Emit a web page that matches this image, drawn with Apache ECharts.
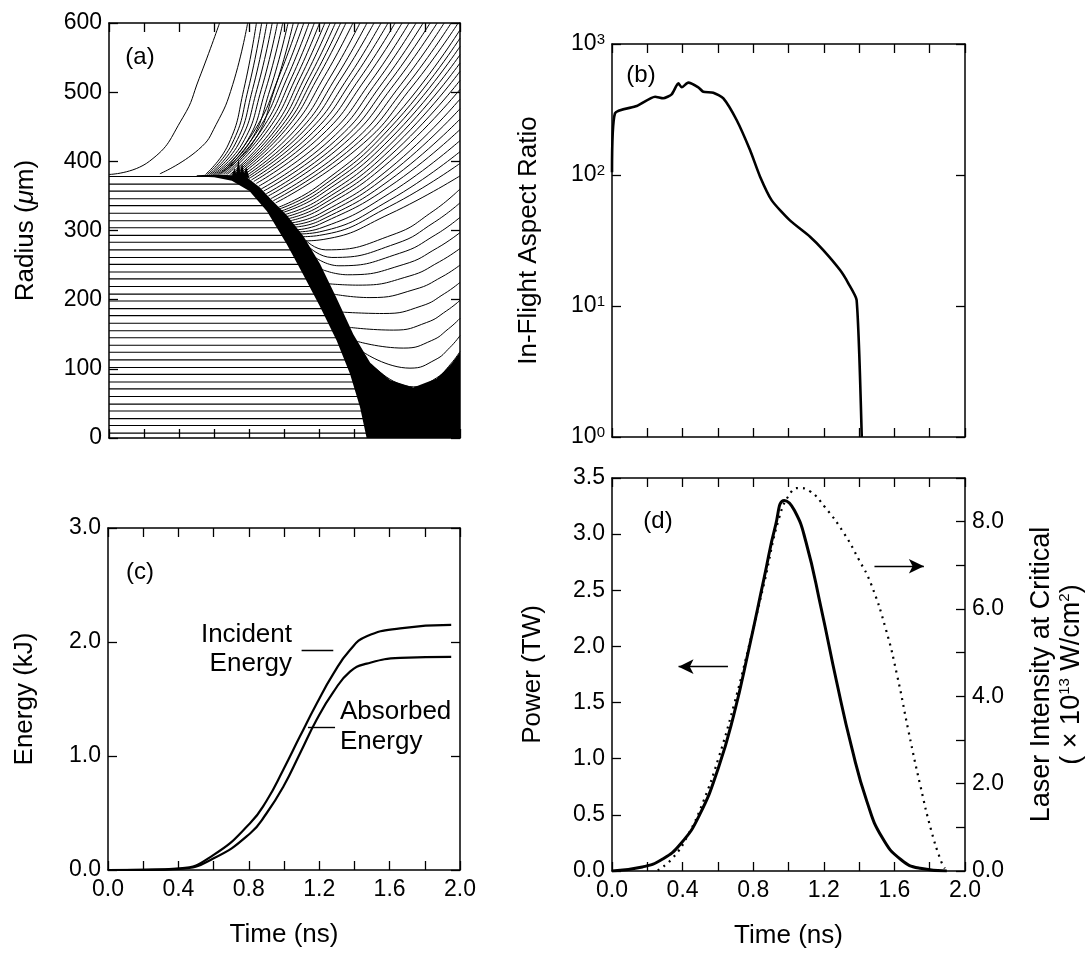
<!DOCTYPE html>
<html><head><meta charset="utf-8">
<script src="https://cdn.jsdelivr.net/npm/echarts@6/dist/echarts.min.js"></script>
<style>html,body{margin:0;padding:0;background:#fff}#c{width:1087px;height:958px}</style>
</head><body><div id="c"></div>
<script>
const FONT = '"Liberation Sans", Arial, Helvetica, sans-serif';

// ---------- (a) Radius vs time (Lagrangian cell trajectories) ----------
const fuelRadii = [378,367,357,346,336,325,314,304,293,283,272,261,251,240,230,219,208,198,187,177,166,155,145,134,124,113,102,92,81,71,60,49,39,28,18,7];
const fuelEndTimes = [0.60,0.75,0.82,0.86,0.89,0.93,0.95,0.98,1.00,1.03,1.05,1.07,1.10,1.12,1.14,1.16,1.19,1.21,1.23,1.25,1.27,1.29,1.31,1.33,1.34,1.36,1.38,1.39,1.41,1.42,1.43,1.445,1.45,1.46,1.47,1.48];
const coronaTopLines = [
 [[0,381],[0.23,400],[0.42,463],[0.514,520],[0.63,600]],
 [[0.29,382],[0.51,417],[0.61,453],[0.705,511],[0.79,600]],
 [[0.55,381],[0.681,425],[0.768,504],[0.84,600]],
 [[0.56,381],[0.70,425],[0.793,504],[0.87,600]],
 [[0.571,381],[0.719,425],[0.818,504],[0.90,600]],
 [[0.581,381],[0.738,425],[0.843,504],[0.93,600]],
 [[0.592,381],[0.758,425],[0.868,504],[0.96,600]],
 [[0.602,381],[0.777,425],[0.893,504],[0.99,600]],
 [[0.613,381],[0.796,425],[0.918,504],[1.02,600]],
 [[0.623,381],[0.815,425],[0.943,504],[1.05,600]],
 [[0.634,381],[0.835,447],[0.969,523],[1.08,600]],
 [[0.644,381],[0.854,447],[0.994,523],[1.11,600]],
 [[0.654,381],[0.873,447],[1.019,523],[1.14,600]],
 [[0.665,381],[0.892,447],[1.044,523],[1.17,600]],
 [[0.675,381],[0.911,447],[1.069,523],[1.20,600]],
 [[0.686,380],[0.931,446],[1.094,523],[1.23,600]],
 [[0.696,380],[0.950,446],[1.119,523],[1.26,600]],
 [[0.707,380],[0.969,446],[1.144,523],[1.29,600]],
 [[0.717,380],[0.988,446],[1.169,523],[1.32,600]],
 [[0.727,379],[1.007,446],[1.194,523],[1.35,600]],
 [[0.741,379],[1.033,446],[1.228,523],[1.39,600]],
 [[0.755,378],[1.059,445],[1.261,522],[1.43,600]],
 [[0.769,377],[1.084,444],[1.295,522],[1.47,600]],
 [[0.783,376],[1.110,444],[1.328,522],[1.51,600]],
 [[0.797,375],[1.136,443],[1.362,521],[1.55,600]],
 [[0.811,373],[1.162,442],[1.395,521],[1.59,600]],
 [[0.825,371],[1.187,440],[1.429,520],[1.63,600]],
 [[0.839,368],[1.213,438],[1.462,519],[1.67,600]],
 [[0.853,364],[1.239,435],[1.496,517],[1.71,600]],
 [[0.867,360],[1.264,432],[1.529,516],[1.75,600]],
 [[0.881,357],[1.290,430],[1.563,515],[1.79,600]],
 [[0.895,353],[1.316,428],[1.596,514],[1.83,600]],
 [[0.908,350],[1.341,426],[1.630,513],[1.87,600]],
 [[0.922,346],[1.367,423],[1.663,511],[1.91,600]],
 [[0.936,343],[1.392,421],[1.697,510],[1.95,600]],
 [[0.950,340],[1.418,419],[1.730,509],[1.99,600]]
];
const coronaSideLines = [
 [[0.96,333],[1.2,366],[1.6,456],[2,590]],
 [[0.97,331],[1.2,361],[1.6,448],[2,578]],
 [[0.98,328],[1.2,356],[1.6,440],[2,566]],
 [[0.99,326],[1.2,351],[1.6,432],[2,554]],
 [[1.00,323],[1.2,345],[1.6,424],[2,542]],
 [[1.01,320],[1.2,340],[1.6,416],[2,530]],
 [[1.02,317],[1.2,335],[1.6,408],[2,517]],
 [[1.03,314],[1.2,330],[1.6,400],[2,504]],
 [[1.04,311],[1.2,324],[1.6,390],[2,490]],
 [[1.05,308],[1.2,319],[1.6,382],[2,476]],
 [[1.06,305],[1.2,314],[1.6,373],[2,461]],
 [[1.07,301],[1.2,309],[1.6,364],[2,446]],
 [[1.08,298],[1.2,303],[1.6,354],[2,430]],
 [[1.09,295],[1.2,298],[1.6,344],[2,414]],
 [[1.10,291],[1.2,293],[1.6,335],[2,397]],
 [[1.12,285],[1.22,287],[1.6,324],[2,379]],
 [[1.12,286],[1.235,272],[1.618,294],[1.847,328],[2,360]],
 [[1.14,276],[1.27,261],[1.635,281],[1.854,312],[2,340]],
 [[1.17,262],[1.31,249],[1.655,267],[1.862,294],[2,319]],
 [[1.21,244],[1.36,236],[1.68,251],[1.872,275],[2,297]],
 [[1.25,223],[1.42,221],[1.71,234],[1.884,255],[2,274]],
 [[1.28,208],[1.487,203],[1.744,215],[1.897,233],[2,250]],
 [[1.33,182],[1.563,180],[1.782,191],[1.913,209],[2,225]],
 [[1.37,160],[1.62,156],[1.81,167],[1.924,184],[2,199]],
 [[1.41,140],[1.677,130],[1.839,141],[1.935,158],[2,173]],
 [[1.45,124],[1.715,101],[1.858,113],[1.943,131],[2,148]],
 [[1.49,108],[1.734,74],[1.867,87],[1.947,107],[2,125]]
];
const bandInnerEdge = [[0.50,378],[0.60,377],[0.70,372],[0.80,357],[0.90,328],[1.013,280],[1.107,236],[1.202,190],[1.297,141],[1.373,93],[1.43,45],[1.468,0]];
const bandOuterEdge = [[0.50,380],[0.60,381],[0.70,380],[0.78,378],[0.86,362],[0.92,346],[1.013,322],[1.107,292],[1.202,252],[1.297,202],[1.392,150],[1.49,108],[1.6,84],[1.734,73],[1.867,86],[1.947,106],[2.0,124]];
const bandCorner = [[2.0,0]];
const bandSpikes = [[0.70,379],[0.715,390],[0.725,382],[0.738,404],[0.748,384],[0.758,397],[0.77,383],[0.782,392],[0.80,376]];

// ---------- (b) In-flight aspect ratio ----------
const aspectTime  = [0,0.017,0.14,0.244,0.29,0.338,0.376,0.395,0.432,0.489,0.517,0.574,0.631,0.706,0.782,0.839,0.905,1.008,1.122,1.197,1.292,1.339,1.386,1.415];
const aspectRatio = [105,296,336,396,385,413,501,467,507,467,432,425,385,263,155,97,64,45,33.8,26.7,18.8,14.9,11.1,1];

// ---------- (c) Energy ----------
const energyTime     = [0,0.2,0.41,0.598,0.807,0.902,0.996,1.09,1.186,1.28,1.375,1.47,1.66,1.95];
const incidentEnergy = [0,0.002,0.015,0.13,0.41,0.61,0.88,1.17,1.46,1.72,1.93,2.05,2.12,2.15];
const absorbedEnergy = [0,0.001,0.01,0.10,0.32,0.50,0.73,1.02,1.32,1.56,1.74,1.81,1.86,1.87];

// ---------- (d) Power and intensity ----------
const powerTime = [0,0.172,0.28,0.388,0.496,0.603,0.69,0.776,0.862,0.927,0.976,1.034,1.099,1.185,1.272,1.358,1.444,1.53,1.638,1.746,1.897];
const powerTW   = [0,0.036,0.10,0.24,0.50,0.92,1.39,1.98,2.61,3.08,3.30,3.21,2.93,2.34,1.69,1.10,0.62,0.30,0.10,0.024,0];
const intensityTime = [0.259,0.345,0.431,0.517,0.603,0.69,0.776,0.862,0.948,1.013,1.056,1.12,1.207,1.315,1.40,1.466,1.552,1.616,1.681,1.746,1.81,1.864,1.886];
const intensity     = [0.015,0.30,0.83,1.59,2.58,3.79,5.15,6.59,8.1,8.67,8.77,8.70,8.33,7.73,7.12,6.59,5.53,4.47,3.18,1.97,0.91,0.23,0.06];

// annotation anchors (data units)
const incidentLeader = [[1.10,1.93],[1.28,1.93]];
const absorbedLeader = [[1.136,1.255],[1.29,1.255]];
const powerArrow = [[0.657,1.82],[0.377,1.82]];
const intensityArrow = [[1.487,2.714],[1.767,2.714]];

const zip = (a, b) => a.map((v, i) => [v, b[i]]);

const chart = echarts.init(document.getElementById('c'), null, {renderer: 'canvas'});

const nameStyle = {color: '#000', fontSize: 26, fontFamily: FONT};
const labelBase = {show: true, color: '#000', fontSize: 23, fontFamily: FONT, margin: 7};

function axis(extra) {
  return Object.assign({
    axisLine: {show: true, onZero: false, lineStyle: {color: '#000', width: 1.5}},
    axisTick: {show: true, inside: true, length: 9, lineStyle: {color: '#000', width: 1.3}},
    splitLine: {show: false},
    axisLabel: {show: false},
    nameMoveOverlap: false
  }, extra);
}
const timeFmt = v => (Math.abs(v / 0.4 - Math.round(v / 0.4)) < 1e-6 ? v.toFixed(1) : '');

const xAxes = [];
[0, 1, 2, 3].forEach(g => {
  const lab = g >= 2;
  xAxes.push(axis({type: 'value', gridIndex: g, position: 'bottom', min: 0, max: 2, interval: 0.2,
    axisLabel: lab ? Object.assign({}, labelBase, {formatter: timeFmt, margin: 8}) : {show: false},
    name: lab ? 'Time (ns)' : '', nameLocation: 'middle', nameGap: 52, nameTextStyle: nameStyle}));
  xAxes.push(axis({type: 'value', gridIndex: g, position: 'top', min: 0, max: 2, interval: 0.2}));
});

const supRich = {s: {fontSize: 15, fontFamily: FONT, color: '#000', verticalAlign: 'top'}};
const yAxes = [
  axis({type: 'value', gridIndex: 0, position: 'left', min: 0, max: 600, interval: 100,
    axisLabel: Object.assign({}, labelBase, {formatter: v => String(v)}),
    name: 'Radius ({i|\u03bc}m)', nameLocation: 'middle', nameGap: 70,
    nameTextStyle: Object.assign({}, nameStyle, {rich: {i: {fontSize: 26, fontFamily: FONT, fontStyle: 'italic', color: '#000'}}})}),
  axis({type: 'value', gridIndex: 0, position: 'right', min: 0, max: 600, interval: 100}),
  axis({type: 'log', logBase: 10, gridIndex: 1, position: 'left', min: 1, max: 1000,
    axisLabel: Object.assign({}, labelBase, {lineHeight: 24, rich: supRich,
      formatter: v => '10{s|' + Math.round(Math.log10(v)) + '}'}),
    name: 'In-Flight Aspect Ratio', nameLocation: 'middle', nameGap: 70, nameTextStyle: nameStyle}),
  axis({type: 'log', logBase: 10, gridIndex: 1, position: 'right', min: 1, max: 1000}),
  axis({type: 'value', gridIndex: 2, position: 'left', min: 0, max: 3, interval: 1,
    axisLabel: Object.assign({}, labelBase, {formatter: v => v.toFixed(1)}),
    name: 'Energy (kJ)', nameLocation: 'middle', nameGap: 70, nameTextStyle: nameStyle}),
  axis({type: 'value', gridIndex: 2, position: 'right', min: 0, max: 3, interval: 1}),
  axis({type: 'value', gridIndex: 3, position: 'left', min: 0, max: 3.5, interval: 0.5,
    axisLabel: Object.assign({}, labelBase, {formatter: v => v.toFixed(1)}),
    name: 'Power (TW)', nameLocation: 'middle', nameGap: 66, nameTextStyle: nameStyle}),
  axis({type: 'value', gridIndex: 3, position: 'right', min: 0, max: 9, interval: 1,
    axisLabel: Object.assign({}, labelBase, {formatter: v => (Math.round(v) % 2 === 0 ? v.toFixed(1) : '')}),
    name: 'Laser Intensity at Critical\n( \u00d7 10{s|13} W/cm{s|2})', nameLocation: 'middle', nameGap: 62,
    nameTextStyle: Object.assign({}, nameStyle, {fontSize: 27, lineHeight: 30, rich: supRich})})
];

function line(g, data, width, smooth, extra) {
  return Object.assign({
    type: 'line', xAxisIndex: 2 * g, yAxisIndex: 2 * g, data: data,
    symbol: 'none', showSymbol: false, smooth: smooth,
    lineStyle: {color: '#000', width: width}, silent: true, z: 2
  }, extra || {});
}
function polygonSeries(points) {
  return {
    type: 'custom', xAxisIndex: 0, yAxisIndex: 0, z: 5, silent: true, clip: true,
    data: points,
    renderItem: function (params, api) {
      if (params.dataIndex !== 0) return null;
      return {type: 'polygon', shape: {points: points.map(p => api.coord(p))}, style: {fill: '#000'}};
    }
  };
}

const series = [];
fuelRadii.forEach((r, i) => series.push(line(0, [[0, r], [fuelEndTimes[i], r]], 1.1, false)));
coronaTopLines.forEach(p => series.push(line(0, p, 1.0, 0.5)));
coronaSideLines.forEach(p => series.push(line(0, p, 1.0, 0.5)));
series.push(polygonSeries(bandInnerEdge.concat(bandCorner, bandOuterEdge.slice().reverse())));
series.push(polygonSeries(bandSpikes));

series.push(line(1, zip(aspectTime, aspectRatio), 2.6, 0.2));

const leaderMark = (pairs, arrow) => ({
  silent: true, symbol: arrow ? ['none', 'arrow'] : 'none', symbolSize: [11, 15],
  label: {show: false}, emphasis: {disabled: true},
  lineStyle: {color: '#000', width: 1.4, type: 'solid'},
  data: pairs.map(pr => [{coord: pr[0]}, {coord: pr[1]}])
});
series.push(line(2, zip(energyTime, incidentEnergy), 2.2, 0.5, {markLine: leaderMark([incidentLeader, absorbedLeader], false)}));
series.push(line(2, zip(energyTime, absorbedEnergy), 2.2, 0.5));

series.push(line(3, zip(powerTime, powerTW), 3, 0.5, {markLine: leaderMark([powerArrow, intensityArrow], true)}));
series.push(line(3, zip(intensityTime, intensity), 2.2, 0.5,
  {yAxisIndex: 7, lineStyle: {color: '#000', width: 2.2, type: [2, 5]}}));

function txt(text, x, y, align, size) {
  return {type: 'text', silent: true, z: 10,
    style: {text: text, x: x, y: y, fill: '#000', font: size + 'px ' + FONT,
      align: align, textAlign: align, verticalAlign: 'middle', textVerticalAlign: 'middle'}};
}

chart.setOption({
  animation: false,
  backgroundColor: '#fff',
  grid: [
    {left: 109, top: 23, width: 351, height: 415, outerBoundsMode: 'none', containLabel: false},
    {left: 612, top: 44, width: 353, height: 393, outerBoundsMode: 'none', containLabel: false},
    {left: 108, top: 528, width: 352, height: 342, outerBoundsMode: 'none', containLabel: false},
    {left: 612, top: 478, width: 353, height: 393, outerBoundsMode: 'none', containLabel: false}
  ],
  xAxis: xAxes,
  yAxis: yAxes,
  series: series,
  graphic: [
    txt('(a)', 140, 57, 'center', 24),
    txt('(b)', 641, 75, 'center', 24),
    txt('(c)', 140, 572, 'center', 24),
    txt('(d)', 658, 521, 'center', 24),
    txt('Incident', 292, 635, 'right', 26),
    txt('Energy', 292, 664, 'right', 26),
    txt('Absorbed', 340, 712, 'left', 26),
    txt('Energy', 340, 742, 'left', 26)
  ]
});
</script>
</body></html>
